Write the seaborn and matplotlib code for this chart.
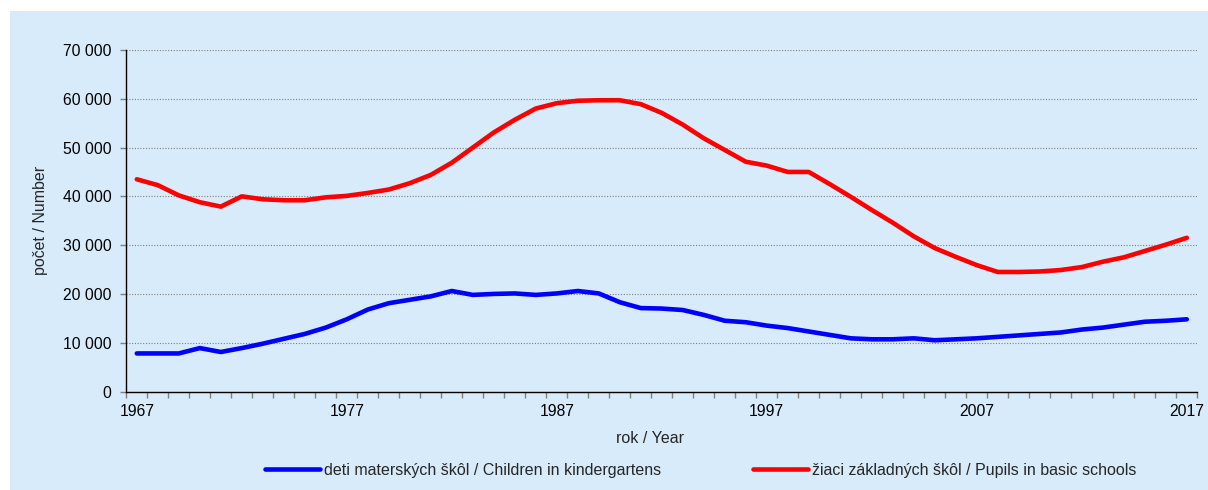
import numpy as np
import pandas as pd
import matplotlib
matplotlib.use("Agg")
import matplotlib.pyplot as plt
from matplotlib.patches import Rectangle
from matplotlib.ticker import FuncFormatter, MultipleLocator
import seaborn as sns

# data
years = list(range(1967, 2018))
kindergarten = [7800, 7800, 7800, 8900, 8100, 8900, 9800, 10800, 11800, 13100,
                14800, 16800, 18100, 18800, 19500, 20600, 19800, 20000, 20100, 19800,
                20100, 20600, 20100, 18300, 17100, 17000, 16700, 15700, 14500, 14200,
                13500, 13000, 12300, 11600, 10900, 10700, 10700, 10900, 10500, 10700,
                10900, 11200, 11500, 11800, 12100, 12700, 13100, 13700, 14300, 14500,
                14800]
basic_school = [43500, 42300, 40200, 38800, 37900, 40000, 39400, 39200, 39200, 39800,
                40100, 40700, 41400, 42700, 44400, 46900, 50000, 53100, 55700, 58000,
                59100, 59600, 59700, 59700, 58900, 57100, 54700, 51900, 49500, 47100,
                46300, 45000, 45000, 42500, 39900, 37200, 34600, 31800, 29400, 27600,
                25900, 24500, 24500, 24600, 24900, 25500, 26600, 27500, 28800, 30100,
                31500]
label_kg = "deti materských škôl / Children in kindergartens"
label_bs = "žiaci základných škôl / Pupils in basic schools"
year_labels = [1967, 1977, 1987, 1997, 2007, 2017]

sns.set_style("ticks")
plt.rcParams["font.family"] = ["Liberation Sans", "DejaVu Sans"]
plt.rcParams["font.size"] = 11.3

W, H = 1208, 490
fig = plt.figure(figsize=(W / 100, H / 100), dpi=100, facecolor="white")
bg = "#D7EBFA"
fig.patches.append(Rectangle((10 / W, 0), 1 - 10 / W, 1 - 11 / H,
                             transform=fig.transFigure, facecolor=bg,
                             edgecolor="none", zorder=-10))

x0, x1 = 126.3, 1197.3
y0, y1 = 50.0, 391.5
ax = fig.add_axes([x0 / W, 1 - y1 / H, (x1 - x0) / W, (y1 - y0) / H])
ax.set_facecolor(bg)

df = pd.DataFrame({"year": years, "kg": kindergarten, "bs": basic_school})
sns.lineplot(data=df, x="year", y="kg", ax=ax, color="#0000FF", lw=3.3,
             label=label_kg, solid_capstyle="round", legend=False)
sns.lineplot(data=df, x="year", y="bs", ax=ax, color="#FF0000", lw=3.3,
             label=label_bs, solid_capstyle="round", legend=False)

ax.set_xlim(years[0] - 0.5, years[-1] + 0.5)
ax.set_ylim(0, 70000)
ax.yaxis.set_major_locator(MultipleLocator(10000))
ax.yaxis.set_major_formatter(FuncFormatter(lambda v, p: f"{int(v):,}".replace(",", " ")))
ax.set_xticks(year_labels)
ax.set_xticklabels([str(y) for y in year_labels])
ax.set_xticks(np.arange(years[0] - 0.5, years[-1] + 1), minor=True)
ax.tick_params(axis="x", which="major", length=0, pad=9, labelsize=11.3, colors="black")
ax.tick_params(axis="x", which="minor", length=4, width=1, color="#808080", direction="out")
ax.tick_params(axis="y", which="major", length=4, width=1, color="#808080", pad=6.5,
               labelsize=11.3, labelcolor="black")

ax.grid(axis="y", color="#808080", linestyle=(0, (1, 1.5)), lw=0.8)
ax.set_axisbelow(True)
for s in ["top", "right"]:
    ax.spines[s].set_visible(False)
for s in ["left", "bottom"]:
    ax.spines[s].set_color("black")
    ax.spines[s].set_linewidth(1)

ax.set_xlabel("rok / Year", fontsize=11.5, va="center")
ax.xaxis.set_label_coords((650 - x0) / (x1 - x0), -(438 - y1) / (y1 - y0))
ax.set_ylabel("počet / Number", fontsize=11.5, va="center")
ax.yaxis.set_label_coords((40 - x0) / (x1 - x0), 0.5)

handles, labels = ax.get_legend_handles_labels()
fig.legend(handles, labels, loc="center", bbox_to_anchor=(701 / W, 1 - 470 / H),
           ncol=2, frameon=False, fontsize=11.5, handlelength=3.45,
           handletextpad=0.25, columnspacing=5.75)

fig.savefig("out.png", dpi=100, facecolor="white")
